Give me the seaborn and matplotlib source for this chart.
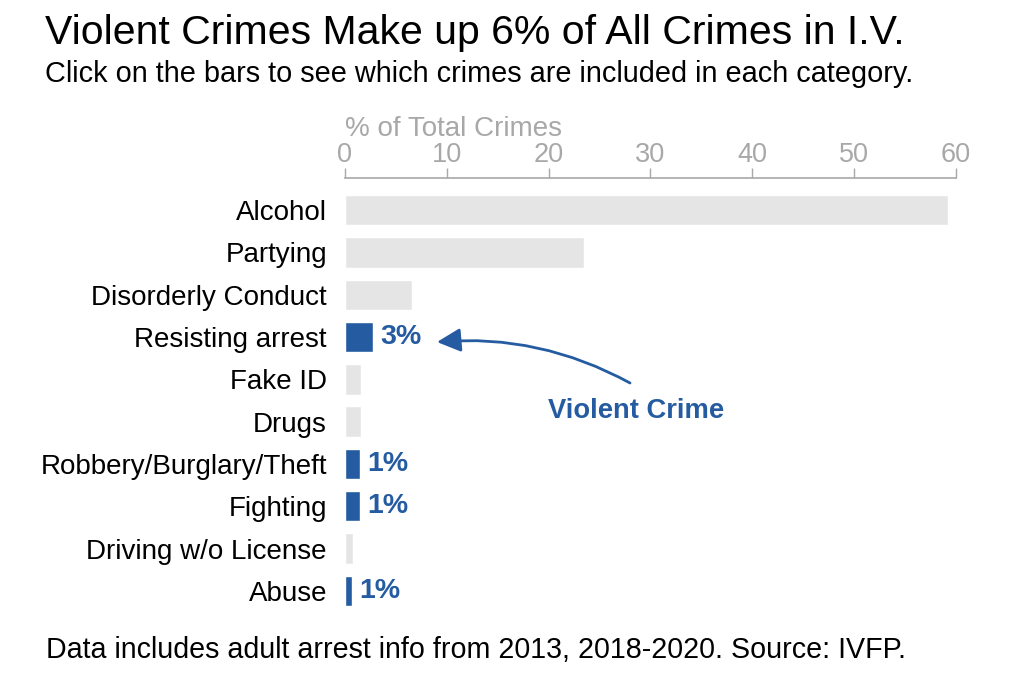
import pandas as pd
import seaborn as sns
import matplotlib.pyplot as plt

# data
crimes = ['Alcohol', 'Partying', 'Disorderly Conduct', 'Resisting arrest',
          'Fake ID', 'Drugs', 'Robbery/Burglary/Theft', 'Fighting',
          'Driving w/o License', 'Abuse']
pct = [59.2, 23.5, 6.6, 2.8, 1.6, 1.6, 1.5, 1.5, 0.8, 0.7]
violent = [False, False, False, True, False, False, True, True, False, True]
pct_labels = ['', '', '', '3%', '', '', '1%', '1%', '', '1%']
x_ticks = [0, 10, 20, 30, 40, 50, 60]

BLUE = '#255ba1'
GREY_BAR = '#e5e5e5'
GREY_AX = '#a8a8a8'

sns.set_style('white')
plt.rcParams['font.family'] = ['Liberation Sans', 'DejaVu Sans']

df = pd.DataFrame({'crime': crimes, 'pct': pct,
                   'kind': ['violent' if v else 'other' for v in violent]})

fig = plt.figure(figsize=(10.24, 6.8), dpi=100)
ax = fig.add_axes([345 / 1024, 1 - 612 / 680, 610.7 / 1024, 434 / 680])

sns.barplot(data=df, x='pct', y='crime', hue='kind',
            palette={'violent': BLUE, 'other': GREY_BAR},
            dodge=False, width=0.72, legend=False, ax=ax, saturation=1)

ax.set_xlim(0, 60)
ax.set_ylim(9.5, -0.76)
ax.set_xticks(x_ticks)
ax.xaxis.tick_top()
ax.tick_params(axis='x', colors=GREY_AX, labelsize=19.5, length=7, width=1,
               pad=0.5, direction='out')
ax.tick_params(axis='y', length=0, labelsize=20, labelcolor='black', pad=13)
ax.set_xlabel('')
ax.set_ylabel('')
for s in ['right', 'bottom', 'left']:
    ax.spines[s].set_visible(False)
ax.spines['top'].set_color(GREY_AX)
ax.spines['top'].set_linewidth(1.2)

# percentage labels beside the violent bars
for i, (v, lab) in enumerate(zip(pct, pct_labels)):
    if lab:
        ax.annotate(lab, xy=(v, i), xytext=(5, 0), textcoords='offset points',
                    va='center', ha='left', color=BLUE, fontsize=20.5,
                    fontweight='bold')

ax.text(0, 1 + (178 - 136) / 434, '% of Total Crimes', transform=ax.transAxes,
        color=GREY_AX, fontsize=20, ha='left', va='baseline')

# curved arrow pointing at Resisting arrest
fig.text(548 / 1024, 1 - 418 / 680, 'Violent Crime', color=BLUE,
         fontsize=19.7, fontweight='bold', ha='left', va='baseline')
ax.annotate('', xy=(437, 680 - 342), xycoords='figure pixels',
            xytext=(630, 680 - 383), textcoords='figure pixels',
            arrowprops=dict(arrowstyle='-|>,head_length=0.72,head_width=0.36',
                            color=BLUE, lw=2, mutation_scale=20,
                            connectionstyle='arc3,rad=0.15',
                            shrinkA=0, shrinkB=0))

fig.text(45 / 1024, 1 - 44.5 / 680,
         'Violent Crimes Make up 6% of All Crimes in I.V.',
         fontsize=29.5, color='black', ha='left', va='baseline')
fig.text(45 / 1024, 1 - 81.5 / 680,
         'Click on the bars to see which crimes are included in each category.',
         fontsize=20.8, color='black', ha='left', va='baseline')
fig.text(46 / 1024, 1 - 658.5 / 680,
         'Data includes adult arrest info from 2013, 2018-2020. Source: IVFP.',
         fontsize=20.6, color='black', ha='left', va='baseline')

fig.savefig('out.png', dpi=100, facecolor='white')
